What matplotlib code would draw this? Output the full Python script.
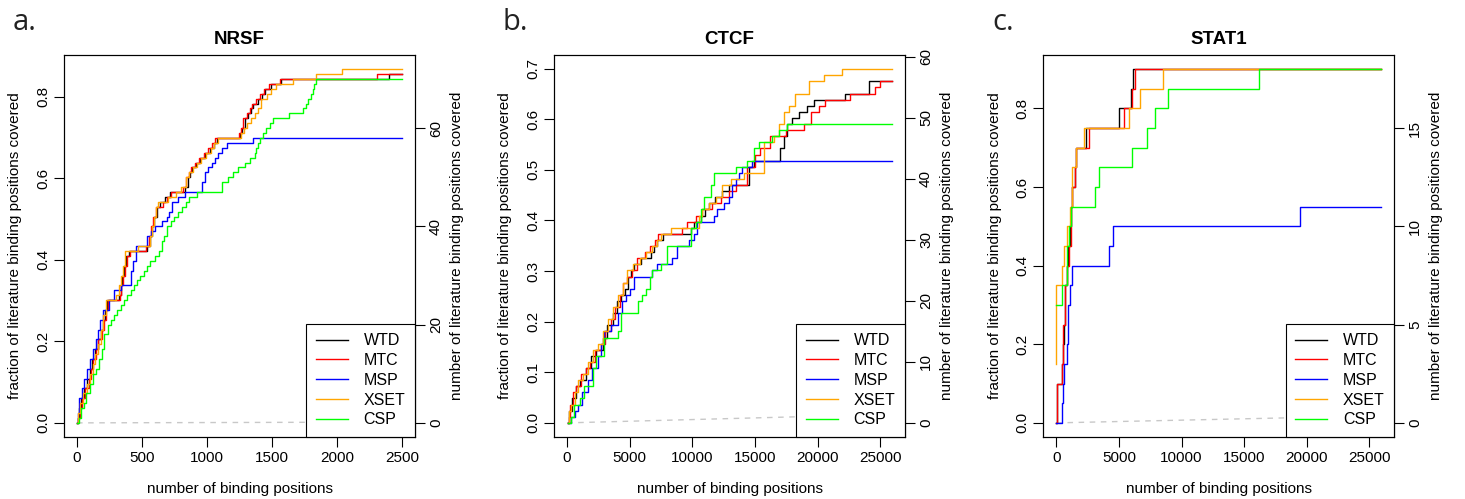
import numpy as np
import matplotlib.pyplot as plt

plt.rcParams['font.family'] = ['Liberation Sans', 'DejaVu Sans']

# ---- NRSF (83 literature binding positions) ----
nrsf_total = 83
nrsf_wtd_x = [0, 5, 15, 30, 55, 80, 100, 117, 140, 160, 183, 200, 215, 234, 320, 335, 349, 365, 380, 399, 540, 560, 575, 590, 615, 641, 680, 718, 832, 850, 870, 883, 915, 947, 985, 1023, 1050, 1074, 1252, 1270, 1290, 1316, 1340, 1354, 1392, 1420, 1443, 1494, 1570, 2397, 2500]
nrsf_wtd_n = [0, 1, 3, 5, 7, 9, 11, 13, 15, 17, 19, 21, 23, 25, 26, 28, 30, 32, 34, 35, 36, 38, 40, 42, 44, 45, 46, 47, 48, 50, 51, 52, 53, 54, 55, 56, 57, 58, 59, 60, 62, 63, 64, 65, 66, 67, 68, 69, 70, 71, 71]
nrsf_mtc_x = [0, 8, 20, 35, 60, 90, 105, 125, 145, 165, 190, 205, 222, 240, 330, 340, 352, 368, 385, 405, 530, 550, 568, 585, 610, 660, 690, 725, 815, 840, 860, 875, 905, 940, 975, 1010, 1040, 1065, 1245, 1265, 1280, 1305, 1330, 1348, 1380, 1410, 1435, 1475, 1560, 2308, 2500]
nrsf_mtc_n = [0, 1, 3, 5, 7, 9, 11, 13, 15, 17, 19, 21, 23, 25, 26, 28, 30, 32, 34, 35, 36, 38, 40, 42, 44, 45, 46, 47, 48, 50, 51, 52, 53, 54, 55, 56, 57, 58, 59, 60, 62, 63, 64, 65, 66, 67, 68, 69, 70, 71, 71]
nrsf_msp_x = [0, 10, 18, 35, 56, 80, 100, 125, 145, 165, 180, 196, 247, 285, 336, 412, 430, 450, 540, 570, 603, 650, 692, 710, 730, 780, 832, 962, 985, 1010, 1036, 1060, 1087, 1112, 1150, 1354, 2500]
nrsf_msp_n = [0, 2, 5, 7, 9, 11, 13, 15, 17, 19, 21, 23, 25, 27, 28, 31, 33, 36, 38, 39, 40, 41, 42, 43, 45, 46, 47, 49, 51, 52, 53, 54, 55, 56, 57, 58, 58]
nrsf_xset_x = [0, 5, 25, 45, 75, 100, 120, 140, 160, 185, 200, 225, 300, 320, 335, 355, 370, 470, 560, 580, 595, 610, 625, 700, 760, 800, 835, 860, 890, 920, 955, 990, 1030, 1055, 1085, 1260, 1285, 1310, 1340, 1366, 1390, 1417, 1460, 1494, 1532, 1660, 1837, 2036, 2500]
nrsf_xset_n = [0, 2, 4, 6, 8, 10, 12, 14, 16, 19, 22, 25, 26, 28, 30, 32, 35, 36, 38, 40, 42, 44, 45, 46, 47, 48, 50, 51, 52, 53, 54, 55, 56, 57, 58, 59, 60, 61, 62, 63, 64, 66, 67, 68, 69, 70, 71, 72, 72]
nrsf_csp_x = [0, 15, 30, 50, 69, 100, 125, 145, 170, 190, 208, 240, 260, 285, 310, 336, 360, 385, 412, 440, 465, 488, 515, 540, 565, 600, 628, 650, 670, 692, 720, 743, 780, 806, 835, 858, 921, 1112, 1163, 1200, 1240, 1290, 1330, 1367, 1380, 1392, 1410, 1430, 1455, 1481, 1507, 1634, 1736, 1761, 1780, 1799, 1812, 1825, 1842, 2500]
nrsf_csp_n = [0, 1, 3, 4, 6, 8, 10, 11, 13, 15, 18, 20, 21, 22, 23, 24, 25, 26, 27, 28, 29, 30, 31, 32, 33, 34, 35, 37, 38, 40, 41, 42, 43, 44, 45, 46, 47, 49, 50, 51, 52, 53, 54, 55, 56, 57, 58, 59, 60, 61, 62, 63, 64, 65, 66, 67, 68, 69, 70, 70]
nrsf_rand_x = [0, 2500]
nrsf_rand_f = [0, 0.002]

# ---- CTCF (83 literature binding positions) ----
ctcf_total = 83
ctcf_wtd_x = [50, 120, 186, 400, 716, 1000, 1510, 1900, 2310, 2840, 3200, 3630, 4000, 4300, 4600, 4830, 5100, 5360, 5890, 6690, 6950, 7220, 7620, 9870, 10136, 10400, 10700, 11000, 11300, 11800, 12390, 12920, 14515, 14910, 17040, 17300, 17570, 17970, 18500, 19160, 19690, 22210, 24070, 25950]
ctcf_wtd_n = [0, 1, 2, 4, 6, 7, 9, 11, 12, 14, 16, 18, 20, 21, 22, 24, 25, 26, 27, 28, 29, 30, 31, 32, 33, 33, 34, 35, 36, 37, 38, 39, 42, 43, 45, 47, 49, 50, 51, 52, 53, 54, 56, 56]
ctcf_mtc_x = [50, 150, 250, 500, 716, 1100, 1510, 1800, 2200, 2700, 3000, 3500, 3800, 4200, 4500, 4750, 5200, 5600, 6200, 6600, 7000, 7300, 9200, 9600, 10300, 10800, 11600, 12300, 12900, 13450, 14400, 15040, 15440, 16240, 17500, 18880, 19500, 20080, 20600, 22600, 24600, 25000, 25950]
ctcf_mtc_n = [0, 1, 3, 5, 6, 8, 9, 10, 12, 13, 15, 17, 19, 21, 23, 24, 25, 27, 28, 29, 30, 31, 32, 33, 34, 35, 36, 37, 38, 39, 42, 44, 45, 47, 48, 49, 51, 52, 53, 54, 55, 56, 56]
ctcf_msp_x = [50, 320, 600, 850, 1200, 1650, 2000, 2440, 2700, 2970, 3500, 4040, 4400, 4700, 5000, 5360, 6800, 7220, 8410, 8810, 9740, 10100, 10400, 11730, 12000, 12520, 12900, 13190, 13450, 13720, 13990, 14780, 25950]
ctcf_msp_n = [0, 1, 2, 3, 5, 7, 9, 11, 13, 15, 16, 18, 20, 21, 22, 24, 25, 26, 27, 29, 30, 31, 33, 34, 35, 36, 37, 39, 40, 41, 42, 43, 43]
ctcf_xset_x = [50, 120, 300, 600, 900, 1300, 1700, 2100, 2500, 2900, 3300, 3700, 4100, 4500, 4800, 5300, 5800, 6300, 6800, 7200, 7500, 8280, 10500, 10800, 11330, 11860, 12400, 13050, 14115, 15710, 16500, 16900, 17300, 17700, 18230, 19300, 20480, 21950, 25950]
ctcf_xset_n = [0, 2, 3, 5, 7, 8, 10, 12, 13, 15, 17, 19, 21, 23, 25, 26, 27, 28, 29, 30, 31, 32, 34, 35, 36, 37, 39, 40, 41, 46, 47, 49, 51, 52, 54, 56, 57, 58, 58]
ctcf_csp_x = [50, 300, 584, 1000, 1380, 2040, 2310, 2970, 4040, 4300, 5630, 6000, 6290, 6600, 6820, 7480, 8010, 9870, 10270, 10670, 10940, 11470, 11730, 13460, 14000, 14390, 14910, 15310, 16370, 16900, 17570, 25950]
ctcf_csp_n = [0, 1, 3, 4, 6, 9, 11, 14, 15, 18, 20, 21, 22, 24, 25, 26, 29, 32, 33, 35, 37, 39, 41, 42, 42, 43, 45, 46, 47, 48, 49, 49]
ctcf_rand_x = [0, 25950]
ctcf_rand_f = [0, 0.017]

# ---- STAT1 (20 literature binding positions) ----
stat1_total = 20
stat1_wtd_x = [0, 15, 475, 540, 580, 650, 700, 820, 950, 1050, 1140, 1250, 1450, 1560, 2330, 5035, 5960, 6150, 25950]
stat1_wtd_n = [0, 2, 3, 4, 5, 6, 7, 8, 9, 10, 11, 12, 13, 14, 15, 16, 17, 18, 18]
stat1_mtc_x = [0, 15, 480, 560, 660, 873, 1005, 1140, 1270, 1450, 1590, 2600, 5400, 6000, 6250, 25950]
stat1_mtc_n = [0, 2, 3, 5, 7, 8, 9, 11, 12, 13, 14, 15, 16, 17, 18, 18]
stat1_msp_x = [0, 420, 500, 600, 850, 900, 1100, 1250, 4240, 4530, 19435, 25950]
stat1_msp_n = [0, 1, 2, 3, 4, 6, 7, 8, 9, 10, 11, 11]
stat1_xset_x = [0, 10, 475, 610, 870, 1050, 1270, 1535, 2200, 5780, 6710, 8510, 25950]
stat1_xset_n = [3, 7, 8, 9, 10, 11, 13, 14, 15, 16, 17, 18, 18]
stat1_csp_x = [0, 420, 870, 1000, 1200, 3050, 3420, 6045, 7240, 7845, 8910, 16200, 25950]
stat1_csp_n = [6, 7, 9, 10, 11, 12, 13, 14, 15, 16, 17, 18, 18]
stat1_rand_x = [0, 25950]
stat1_rand_f = [0, 0.018]

methods = ['WTD', 'MTC', 'MSP', 'XSET', 'CSP']
colors = ['black', 'red', 'blue', 'orange', '#00ff00']

panels = [
    ('a.', 'NRSF', nrsf_total, 2500,
     [(nrsf_wtd_x, nrsf_wtd_n), (nrsf_mtc_x, nrsf_mtc_n), (nrsf_msp_x, nrsf_msp_n),
      (nrsf_xset_x, nrsf_xset_n), (nrsf_csp_x, nrsf_csp_n)],
     (nrsf_rand_x, nrsf_rand_f),
     [0, 500, 1000, 1500, 2000, 2500], [0, 0.2, 0.4, 0.6, 0.8], [0, 20, 40, 60]),
    ('b.', 'CTCF', ctcf_total, 25950,
     [(ctcf_wtd_x, ctcf_wtd_n), (ctcf_mtc_x, ctcf_mtc_n), (ctcf_msp_x, ctcf_msp_n),
      (ctcf_xset_x, ctcf_xset_n), (ctcf_csp_x, ctcf_csp_n)],
     (ctcf_rand_x, ctcf_rand_f),
     [0, 5000, 10000, 15000, 20000, 25000], [0, 0.1, 0.2, 0.3, 0.4, 0.5, 0.6, 0.7], [0, 10, 20, 30, 40, 50, 60]),
    ('c.', 'STAT1', stat1_total, 25950,
     [(stat1_wtd_x, stat1_wtd_n), (stat1_mtc_x, stat1_mtc_n), (stat1_msp_x, stat1_msp_n),
      (stat1_xset_x, stat1_xset_n), (stat1_csp_x, stat1_csp_n)],
     (stat1_rand_x, stat1_rand_f),
     [0, 5000, 10000, 15000, 20000, 25000], [0, 0.2, 0.4, 0.6, 0.8], [0, 5, 10, 15]),
]

fig = plt.figure(figsize=(14.65, 4.99), dpi=100)
lefts = [0.0437, 0.3782, 0.7122]

for left, (tag, name, total, xmax, curves, rand, xt, yt, nt) in zip(lefts, panels):
    ax = fig.add_axes([left, 0.1242, 0.2396, 0.7655])
    ax.plot(rand[0], rand[1], color='#c8c8c8', lw=1, dashes=(4, 4))
    ymax = 0
    for (x, n), lab, col in zip(curves, methods, colors):
        f = np.array(n) / total
        ymax = max(ymax, f.max())
        ax.plot(x, f, drawstyle='steps-post', color=col, lw=1, label=lab)
    ax.set_xlim(-0.04 * xmax, 1.04 * xmax)
    ax.set_ylim(-0.04 * ymax, 1.04 * ymax)
    ax.set_xticks(xt)
    ax.set_yticks(yt)
    ax.set_yticklabels(['%.1f' % v for v in yt], rotation=90, va='center')
    ax.tick_params(direction='out', length=7, width=0.8, labelsize=11, pad=3)
    for s in ax.spines.values():
        s.set_linewidth(0.8)
    ax.set_xlabel('number of binding positions', fontsize=11, labelpad=12)
    ax.set_ylabel('fraction of literature binding positions covered', fontsize=11, labelpad=10)
    ax.set_title(name, fontsize=13.5, fontweight='bold', pad=8)

    ax2 = ax.twinx()
    lo, hi = ax.get_ylim()
    ax2.set_ylim(lo * total, hi * total)
    ax2.set_yticks(nt)
    ax2.set_yticklabels([str(v) for v in nt], rotation=90, va='center')
    ax2.tick_params(direction='out', length=7, width=0.8, labelsize=11, pad=3)
    ax2.set_ylabel('number of literature binding positions covered', fontsize=11, labelpad=5)

    leg = ax.legend(loc='lower right', fontsize=11.5, borderaxespad=0, fancybox=False,
                    framealpha=1, edgecolor='black', handlelength=2.0, handletextpad=1.0,
                    labelspacing=0.3, borderpad=0.6)
    leg.get_frame().set_linewidth(0.8)
    leg.set_zorder(5)

    fig.text(left - 0.035, 0.94, tag, fontsize=21, family='Open Sans', color='#222222')

fig.savefig('out.png', dpi=100)
